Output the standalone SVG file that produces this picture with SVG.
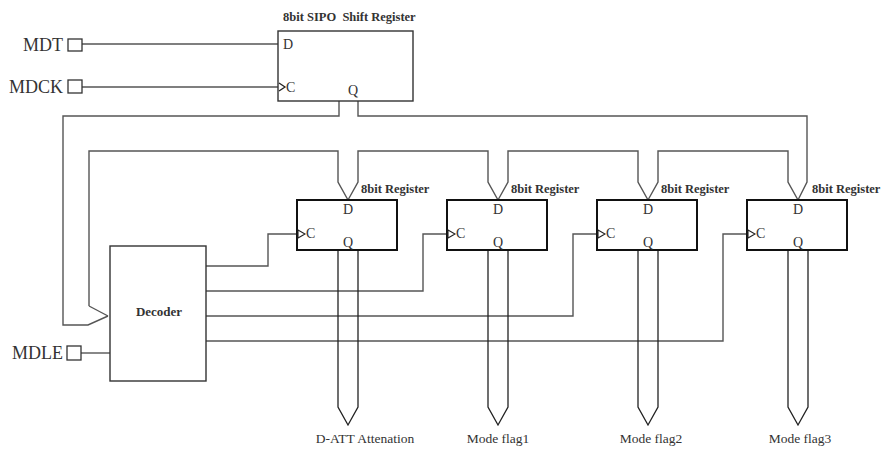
<svg xmlns="http://www.w3.org/2000/svg" width="885" height="451" viewBox="0 0 885 451">
<style>
.w{fill:none;stroke:#555;stroke-width:1.4;stroke-linejoin:miter}
.b{fill:none;stroke:#222;stroke-width:1.3}
.box{fill:#fff;stroke:#333;stroke-width:1.4}
.reg{fill:#fff;stroke:#111;stroke-width:2}
.pin{fill:#fff;stroke:#333;stroke-width:1.3}
.clk{fill:#fff;stroke:#222;stroke-width:1.1}
.t{font-family:"Liberation Serif","Times New Roman",serif;fill:#333}
.bt{font-family:"Liberation Serif","Times New Roman",serif;font-weight:bold;fill:#333}
</style>
<rect width="885" height="451" fill="#fff"/>
<g id="connectors">
<path class="w" d="M82,44 H278"/>
<path class="w" d="M82,87 H278"/>
<path class="w" d="M81,353 H110"/>
<path class="w" d="M339,101 V116 H63 V325 H88 L108,316"/>
<path class="w" d="M89,306 V151 H338 V182 L348,200"/>
<path class="w" d="M357,200 M348,200 L358,182 V151 H488 V182 L498,200"/>
<path class="w" d="M498,200 L508,182 V151 H638 V182 L648,200"/>
<path class="w" d="M648,200 L658,182 V151 H788 V182 L798,200"/>
<path class="w" d="M89,306 L108,316"/>
<path class="w" d="M358,101 V116 H807 V182 L798,200"/>
<path class="w" d="M206,266 H268 V234 H298"/>
<path class="w" d="M206,291 H423 V234 H448"/>
<path class="w" d="M206,316 H573 V234 H598"/>
<path class="w" d="M206,341 H723 V234 H748"/>
<path class="b" d="M338,250 V407 L348,425 L358,407 V250"/>
<path class="b" d="M488,250 V407 L498,425 L508,407 V250"/>
<path class="b" d="M638,250 V407 L648,425 L658,407 V250"/>
<path class="b" d="M788,250 V407 L798,425 L808,407 V250"/>
</g>
<g id="MDT">
<rect class="pin" x="68" y="39" width="14" height="12"/>
<text class="t" x="63" y="51" font-size="18" text-anchor="end">MDT</text>
</g>
<g id="MDCK">
<rect class="pin" x="68" y="80" width="14" height="13"/>
<text class="t" x="63" y="93" font-size="18" text-anchor="end">MDCK</text>
</g>
<g id="MDLE">
<rect class="pin" x="67" y="346" width="14" height="14"/>
<text class="t" x="63" y="359" font-size="18" text-anchor="end">MDLE</text>
</g>
<g id="sipo">
<rect class="box" x="278" y="31" width="135" height="70"/>
<text class="bt" x="283" y="21" font-size="12.5" xml:space="preserve">8bit SIPO  Shift Register</text>
<text class="t" x="283" y="49" font-size="14">D</text>
<polyline class="b" points="279,83 285,87 279,91"/>
<text class="t" x="286" y="92" font-size="14">C</text>
<text class="t" x="353" y="95" font-size="14" text-anchor="middle">Q</text>
</g>
<g id="decoder">
<rect class="box" x="110" y="246" width="96" height="135"/>
<text class="bt" x="159" y="316" font-size="13" text-anchor="middle">Decoder</text>
</g>
<g id="reg1">
<rect class="reg" x="297" y="200" width="100" height="50"/>
<text class="bt" x="361" y="193" font-size="12.5">8bit Register</text>
<text class="t" x="348" y="214" font-size="14" text-anchor="middle">D</text>
<polygon class="clk" points="298,230 305,234 298,238"/>
<text class="t" x="306" y="238" font-size="14">C</text>
<text class="t" x="348" y="247" font-size="14" text-anchor="middle">Q</text>
</g>
<g id="reg2">
<rect class="reg" x="447" y="200" width="100" height="50"/>
<text class="bt" x="511" y="193" font-size="12.5">8bit Register</text>
<text class="t" x="498" y="214" font-size="14" text-anchor="middle">D</text>
<polygon class="clk" points="448,230 455,234 448,238"/>
<text class="t" x="456" y="238" font-size="14">C</text>
<text class="t" x="498" y="247" font-size="14" text-anchor="middle">Q</text>
</g>
<g id="reg3">
<rect class="reg" x="597" y="200" width="100" height="50"/>
<text class="bt" x="661" y="193" font-size="12.5">8bit Register</text>
<text class="t" x="648" y="214" font-size="14" text-anchor="middle">D</text>
<polygon class="clk" points="598,230 605,234 598,238"/>
<text class="t" x="606" y="238" font-size="14">C</text>
<text class="t" x="648" y="247" font-size="14" text-anchor="middle">Q</text>
</g>
<g id="reg4">
<rect class="reg" x="747" y="200" width="100" height="50"/>
<text class="bt" x="812" y="193" font-size="12.5">8bit Register</text>
<text class="t" x="798" y="214" font-size="14" text-anchor="middle">D</text>
<polygon class="clk" points="748,230 755,234 748,238"/>
<text class="t" x="756" y="238" font-size="14">C</text>
<text class="t" x="798" y="247" font-size="14" text-anchor="middle">Q</text>
</g>
<g id="outputs">
<text class="t" x="365" y="443" font-size="13.5" text-anchor="middle">D-ATT Attenation</text>
<text class="t" x="498" y="443" font-size="13.5" text-anchor="middle">Mode flag1</text>
<text class="t" x="651" y="443" font-size="13.5" text-anchor="middle">Mode flag2</text>
<text class="t" x="800" y="443" font-size="13.5" text-anchor="middle">Mode flag3</text>
</g>
</svg>
